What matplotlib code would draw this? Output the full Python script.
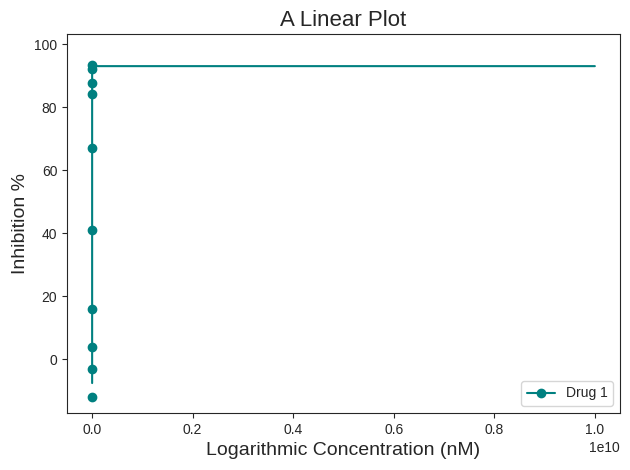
import matplotlib
matplotlib.use("Agg")
import matplotlib.pyplot as plt
import seaborn as sns
from matplotlib.lines import Line2D

# Data
concentration_nM = [0.01, 0.03, 0.1, 0.3, 1, 3, 10, 30, 100, 300]
inhibition = [-11.9, -3.1, 3.8, 15.9, 40.9, 66.9, 84.1, 87.8, 92.1, 93.3]

# Fitted curve
fit_x = [0.001, 1e4, 1e10]
fit_y = [-7.6, 93.0, 93.0]

sns.set_style("ticks")
plt.rcParams['font.family'] = ['Liberation Sans', 'DejaVu Sans']

color = "#008080"
fig, ax = plt.subplots(figsize=(6.3, 4.7), dpi=100)
fig.subplots_adjust(left=67/630, right=620/630, top=1-34/470, bottom=1-413/470)
ax.plot(fit_x, fit_y, color=color, linewidth=1.5)
ax.plot(concentration_nM, inhibition, 'o', color=color, markersize=6)
ax.set_ylim(-17.1, 103.2)
ax.set_title("A Linear Plot", fontsize=16)
ax.set_xlabel("Logarithmic Concentration (nM)", fontsize=14)
ax.set_ylabel("Inhibition %", fontsize=14)
handle = Line2D([], [], color=color, marker='o', linewidth=1.5, markersize=6)
ax.legend([handle], ["Drug 1"], loc="lower right")
fig.savefig("out.png")
